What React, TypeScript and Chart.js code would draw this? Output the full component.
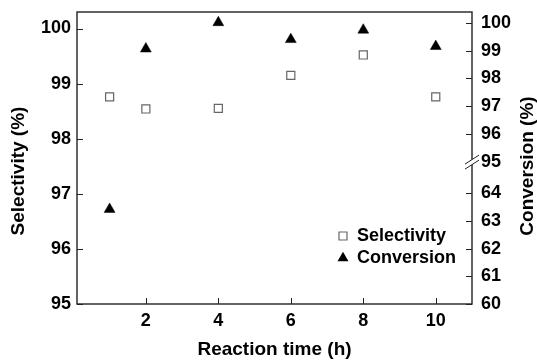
import React, { useEffect, useRef } from "react";
import { Chart, registerables } from "chart.js";

Chart.register(...registerables);

const reactionTime = [1, 2, 4, 6, 8, 10];
const selectivity = [98.76, 98.54, 98.55, 99.15, 99.52, 98.76];
const conversion = [63.42, 99.07, 100.02, 99.41, 99.75, 99.16];
const xTicks = [2, 4, 6, 8, 10];
const selectivityTicks = [95, 96, 97, 98, 99, 100];
const conversionTicks = [60, 61, 62, 63, 64, 95, 96, 97, 98, 99, 100];

const LOW_MIN = 60;
const LOW_MAX = 64;
const HIGH_MIN = 95;
const BREAK_GAP = 1.14;

function convPos(v: number): number {
  return v <= LOW_MAX
    ? v - LOW_MIN
    : LOW_MAX - LOW_MIN + BREAK_GAP + (v - HIGH_MIN);
}

const FONT = "'Liberation Sans', Arial, Helvetica, sans-serif";

function noPad(s: any) {
  s.paddingTop = 0;
  s.paddingBottom = 0;
  s.paddingLeft = 0;
  s.paddingRight = 0;
}

const framePlugin = {
  id: "framePlugin",
  beforeDatasetsDraw(chart: any) {
    const { ctx, chartArea } = chart;
    const { left, right, top, bottom } = chartArea;
    const xs = chart.scales.x;
    const ys = chart.scales.y;
    const y2 = chart.scales.y2;
    ctx.save();
    ctx.strokeStyle = "#222";
    ctx.lineWidth = 1.4;
    ctx.strokeRect(left, top, right - left, bottom - top);
    ctx.lineWidth = 1;
    ctx.beginPath();
    xTicks.forEach((v) => {
      const px = Math.round(xs.getPixelForValue(v)) + 0.5;
      ctx.moveTo(px, bottom);
      ctx.lineTo(px, bottom - 6);
    });
    selectivityTicks.forEach((v) => {
      const py = Math.round(ys.getPixelForValue(v)) + 0.5;
      ctx.moveTo(left, py);
      ctx.lineTo(left + 6, py);
    });
    conversionTicks.forEach((v) => {
      if (v === HIGH_MIN) return;
      const py = Math.round(y2.getPixelForValue(convPos(v))) + 0.5;
      ctx.moveTo(right, py);
      ctx.lineTo(right - 6, py);
    });
    ctx.stroke();
    ctx.restore();
  },
  afterDraw(chart: any) {
    const { ctx, chartArea } = chart;
    const { right } = chartArea;
    const y2 = chart.scales.y2;
    ctx.save();
    // axis break
    const by = y2.getPixelForValue(convPos(HIGH_MIN));
    const bx = right;
    ctx.fillStyle = "#fff";
    ctx.beginPath();
    ctx.moveTo(bx - 7, by + 2.5);
    ctx.lineTo(bx + 7, by - 6.5);
    ctx.lineTo(bx + 7, by - 1.5);
    ctx.lineTo(bx - 7, by + 7.5);
    ctx.closePath();
    ctx.fill();
    ctx.strokeStyle = "#222";
    ctx.lineWidth = 1;
    ctx.beginPath();
    ctx.moveTo(bx - 7, by + 2.5);
    ctx.lineTo(bx + 7, by - 6.5);
    ctx.moveTo(bx - 7, by + 7.5);
    ctx.lineTo(bx + 7, by - 1.5);
    ctx.stroke();

    // y titles
    ctx.fillStyle = "#000";
    ctx.font = `bold 19px ${FONT}`;
    ctx.textAlign = "center";
    ctx.textBaseline = "middle";
    ctx.save();
    ctx.translate(18.5, 171);
    ctx.rotate(-Math.PI / 2);
    ctx.fillText("Selectivity (%)", 0, 0);
    ctx.restore();
    ctx.save();
    ctx.translate(527.5, 166);
    ctx.rotate(-Math.PI / 2);
    ctx.fillText("Conversion (%)", 0, 0);
    ctx.restore();

    // legend
    const lx = 343;
    const ly1 = 236;
    const ly2 = 258;
    ctx.fillStyle = "#fff";
    ctx.strokeStyle = "#666";
    ctx.lineWidth = 1.2;
    ctx.beginPath();
    ctx.rect(lx - 4, ly1 - 4, 8, 8);
    ctx.fill();
    ctx.stroke();
    ctx.fillStyle = "#000";
    ctx.beginPath();
    const r = 6.3;
    const h = (Math.sqrt(3) * r) / 2;
    ctx.moveTo(lx, ly2 - r);
    ctx.lineTo(lx + h, ly2 + r / 2);
    ctx.lineTo(lx - h, ly2 + r / 2);
    ctx.closePath();
    ctx.fill();
    ctx.font = `bold 18px ${FONT}`;
    ctx.textAlign = "left";
    ctx.textBaseline = "middle";
    ctx.fillText("Selectivity", 357, ly1);
    ctx.fillText("Conversion", 357, ly2);
    ctx.restore();
  },
};

export default function App() {
  const canvasRef = useRef<HTMLCanvasElement | null>(null);

  useEffect(() => {
    const canvas = canvasRef.current;
    if (!canvas) return;
    const tickFont = { family: FONT, size: 18, weight: "bold" as const };
    const chart = new Chart(canvas, {
      type: "scatter",
      data: {
        datasets: [
          {
            label: "Selectivity",
            data: reactionTime.map((x, i) => ({ x, y: selectivity[i] })),
            yAxisID: "y",
            pointStyle: "rect",
            pointRadius: 5.7,
            pointHoverRadius: 5.7,
            backgroundColor: "#fff",
            borderColor: "#666",
            borderWidth: 1.2,
          },
          {
            label: "Conversion",
            data: reactionTime.map((x, i) => ({ x, y: convPos(conversion[i]) })),
            yAxisID: "y2",
            pointStyle: "triangle",
            pointRadius: 6.3,
            pointHoverRadius: 6.3,
            backgroundColor: "#000",
            borderColor: "#000",
            borderWidth: 0.5,
          },
        ],
      },
      options: {
        responsive: false,
        animation: false,
        events: [],
        layout: { padding: { top: 12, left: 0, right: 0, bottom: 0 } },
        plugins: {
          legend: { display: false },
          tooltip: { enabled: false },
        },
        scales: {
          x: {
            type: "linear",
            min: 0.1,
            max: 11,
            afterBuildTicks: (s: any) => {
              s.ticks = xTicks.map((v) => ({ value: v }));
            },
            afterFit: (s: any) => {
              s.height = 57;
              noPad(s);
            },
            grid: { display: false, drawTicks: false },
            border: { display: false },
            ticks: {
              color: "#000",
              font: tickFont,
              padding: 6,
              callback: (v: any) => String(v),
            },
            title: {
              display: true,
              text: "Reaction time (h)",
              color: "#000",
              font: { family: FONT, size: 19, weight: "bold", lineHeight: 1 },
              padding: { top: 0, bottom: 1.5 },
            },
          },
          y: {
            type: "linear",
            position: "left",
            min: 95,
            max: 100.3,
            afterBuildTicks: (s: any) => {
              s.ticks = selectivityTicks.map((v) => ({ value: v }));
            },
            afterFit: (s: any) => {
              s.width = 77;
              noPad(s);
            },
            grid: { display: false, drawTicks: false },
            border: { display: false },
            ticks: {
              color: "#000",
              font: tickFont,
              padding: 6,
              callback: (v: any) => String(v),
            },
          },
          y2: {
            type: "linear",
            position: "right",
            min: 0,
            max: 10.54,
            afterBuildTicks: (s: any) => {
              s.ticks = conversionTicks.map((v) => ({ value: convPos(v) }));
            },
            afterFit: (s: any) => {
              s.width = 65;
              noPad(s);
            },
            grid: { display: false, drawTicks: false },
            border: { display: false },
            ticks: {
              color: "#000",
              font: tickFont,
              padding: 9,
              callback: (_v: any, i: number) => String(conversionTicks[i]),
            },
          },
        },
      },
      plugins: [framePlugin],
    });
    return () => chart.destroy();
  }, []);

  return (
    <div style={{ position: "absolute", left: 0, top: 0, width: 537, height: 361 }}>
      <canvas ref={canvasRef} width={537} height={361} />
    </div>
  );
}
